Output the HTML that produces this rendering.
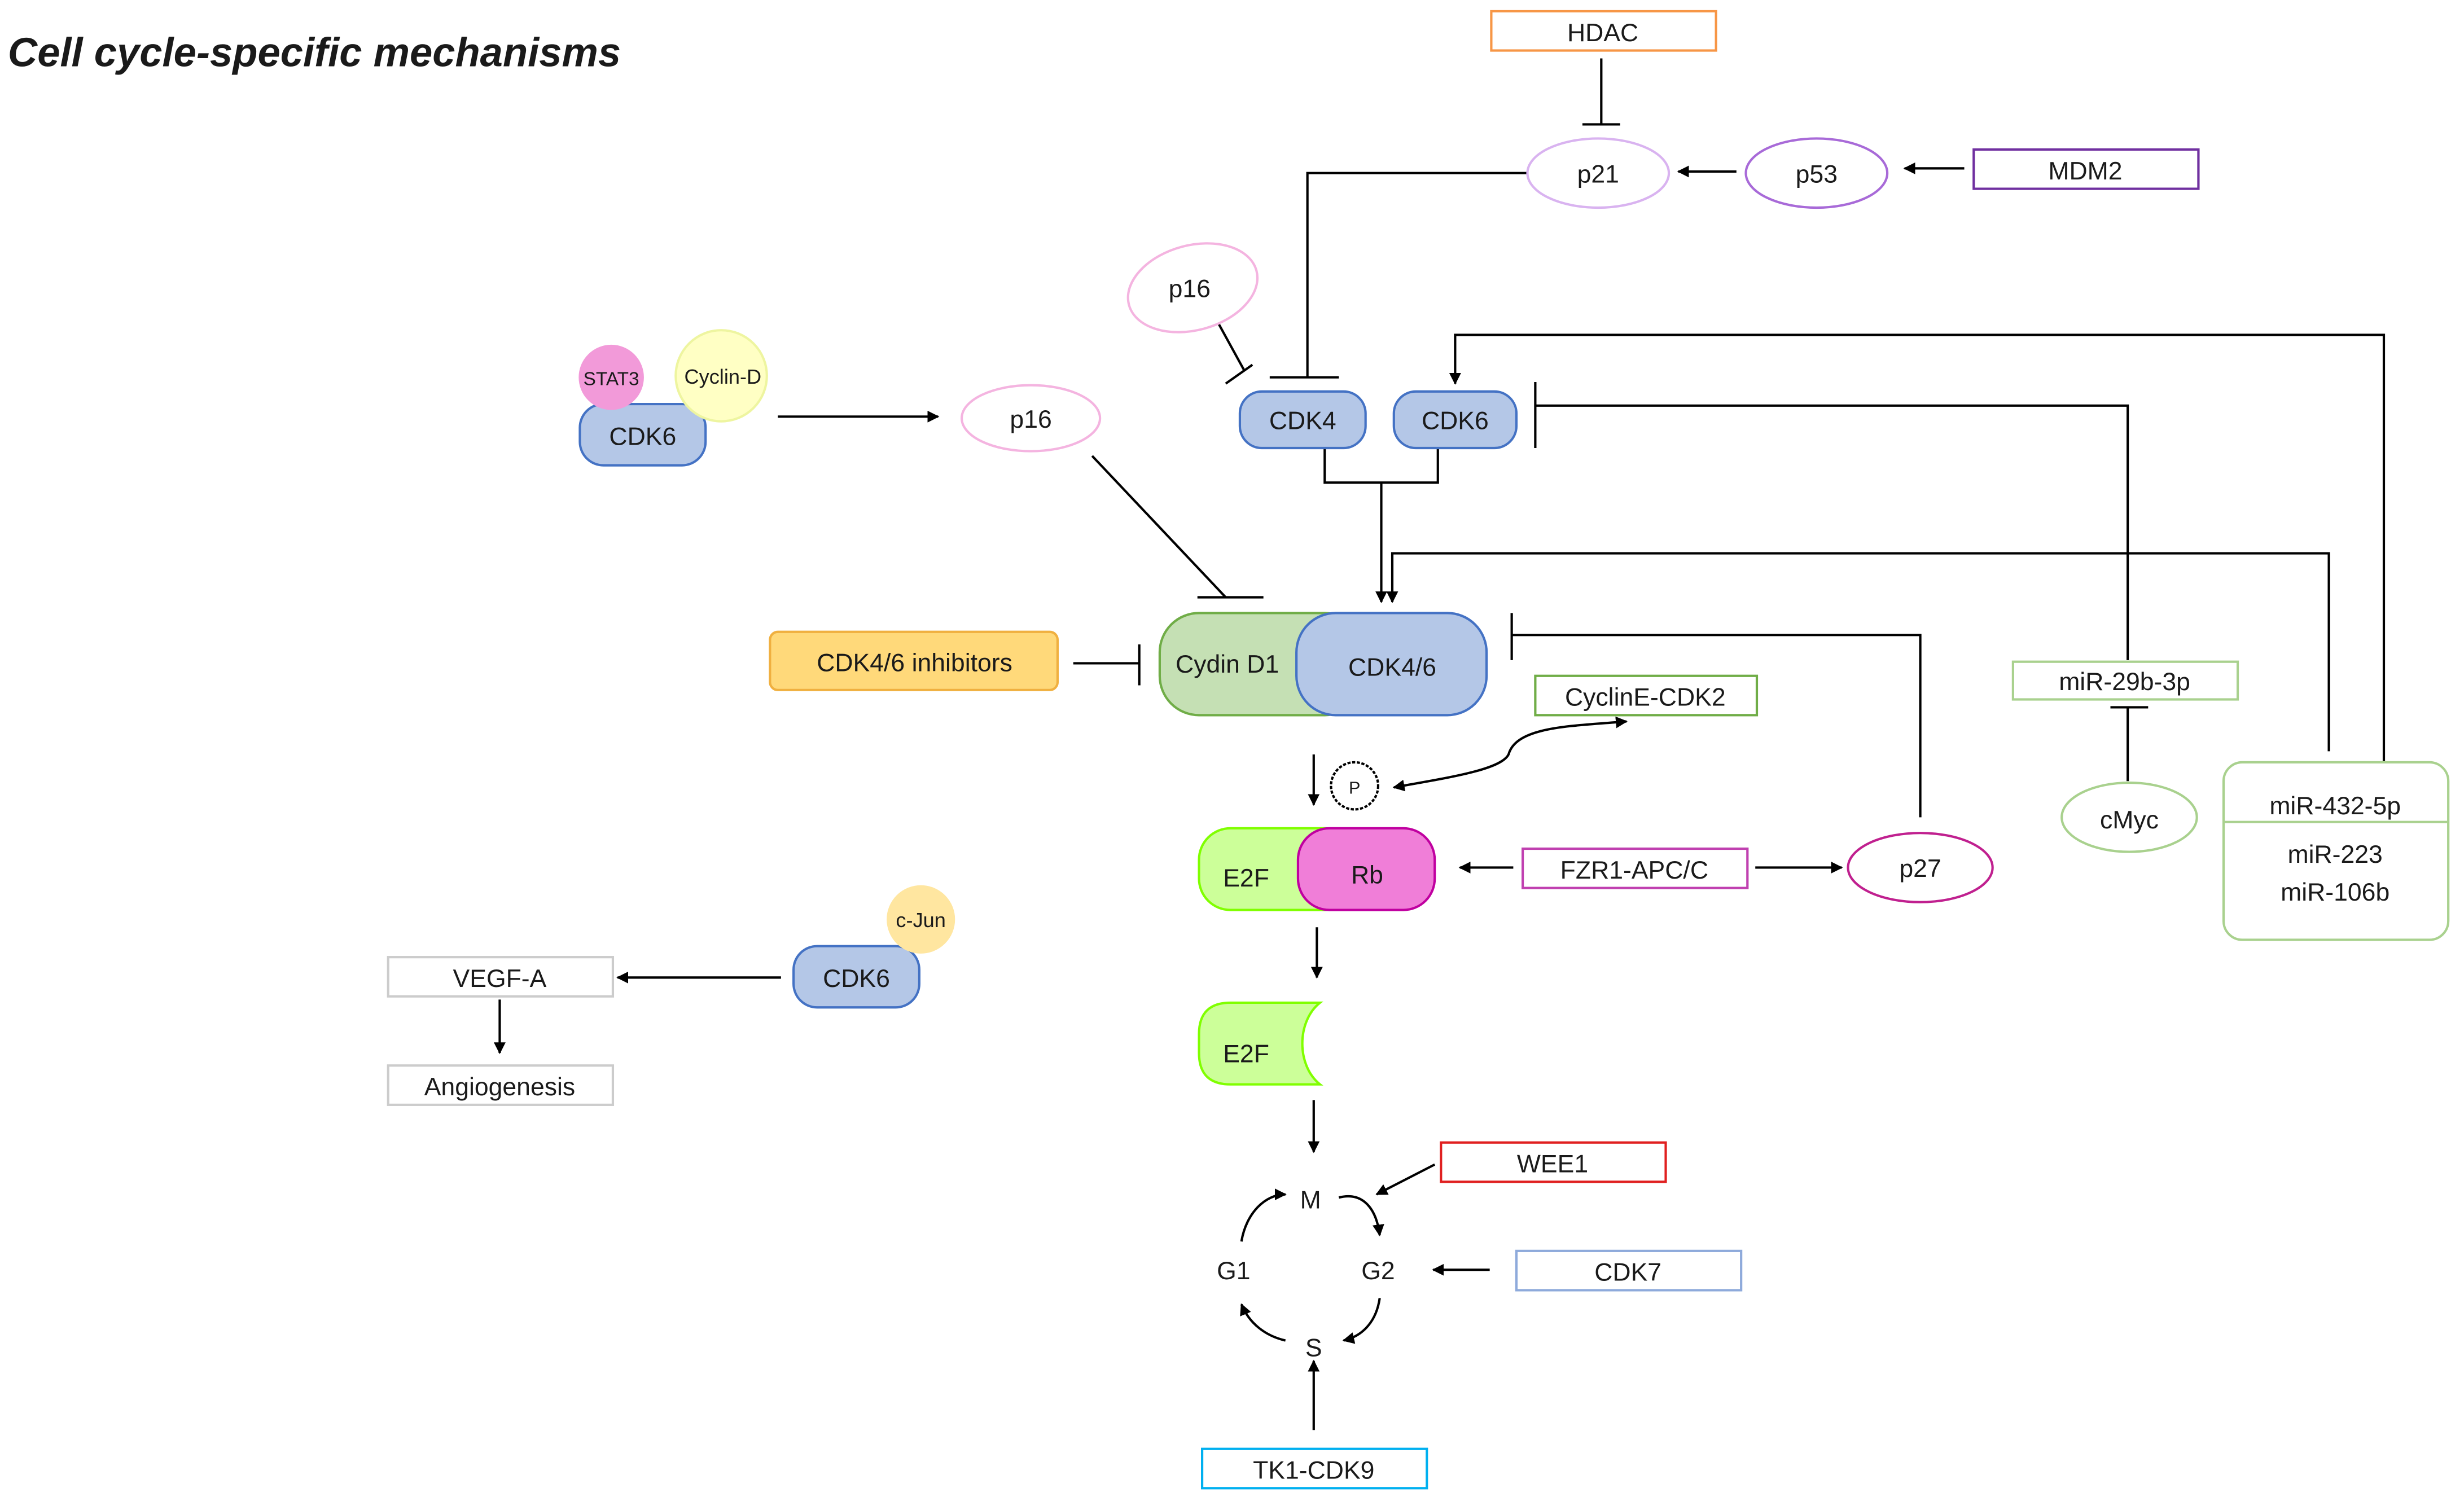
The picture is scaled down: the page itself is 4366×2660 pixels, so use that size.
<!DOCTYPE html>
<html><head><meta charset="utf-8"><style>
html,body{margin:0;padding:0;background:#fff}
svg{display:block}
text{font-family:"Liberation Sans",sans-serif;fill:#1a1a1a}
</style></head><body>
<svg width="4366" height="2660" viewBox="0 0 1568 955" xmlns="http://www.w3.org/2000/svg">
<defs>
<marker id="a" viewBox="0 0 10 10" refX="9" refY="5" markerWidth="5" markerHeight="5" orient="auto-start-reverse"><path d="M0,0L10,5L0,10z" fill="#000"/></marker>
</defs>
<rect width="1568" height="955" fill="#fff"/>
<text x="5" y="42" font-size="26" font-weight="bold" font-style="italic">Cell cycle-specific mechanisms</text>

<g fill="none" stroke="#000" stroke-width="1.5">
<!-- HDAC inhibition -->
<path d="M1019,37V79M1007,79H1031"/>
<path d="M1250,107H1212" marker-end="url(#a)"/>
<path d="M1105,109H1068" marker-end="url(#a)"/>
<path d="M972,110H832V240M808,240H852"/>
<path d="M775,205L792,236M780,244L797,232"/>
<path d="M1517,485V213H926V244" marker-end="url(#a)"/>
<path d="M1354,420V258H977M977,243V285"/>
<path d="M843,285V307H915V285M879,307V383" marker-end="url(#a)"/>
<path d="M1482,478V352H886V383" marker-end="url(#a)"/>
<path d="M495,265H597" marker-end="url(#a)"/>
<path d="M695,290L780,380M762,380H804"/>
<path d="M683,422H725M725,410V436"/>
<path d="M1222,520V404H962M962,390V420"/>
<path d="M1354,497V450M1343,450H1367"/>
<path d="M836,480V512" marker-end="url(#a)"/>
<path d="M887,501C920,495 955,490 960,480C965,462 1000,462 1035,459" marker-start="url(#a)" marker-end="url(#a)"/>
<path d="M963,552H929" marker-end="url(#a)"/>
<path d="M1117,552H1172" marker-end="url(#a)"/>
<path d="M838,590V622" marker-end="url(#a)"/>
<path d="M836,700V733" marker-end="url(#a)"/>
<path d="M913,741L876,760" marker-end="url(#a)"/>
<path d="M948,808H912" marker-end="url(#a)"/>
<path d="M836,910V866" marker-end="url(#a)"/>
<path d="M852,762C868,758 876,770 878,786" marker-end="url(#a)"/>
<path d="M878,826C876,840 868,850 855,853" marker-end="url(#a)"/>
<path d="M818,853C805,850 795,842 790,830" marker-end="url(#a)"/>
<path d="M790,790C793,772 805,760 818,760" marker-end="url(#a)"/>
<path d="M497,622H393" marker-end="url(#a)"/>
<path d="M318,636V670" marker-end="url(#a)"/>
</g>

<!-- boxes -->
<g fill="#fff" stroke-width="1.5">
<rect x="949" y="7" width="143" height="25" stroke="#F79646"/>
<rect x="1256" y="95" width="143" height="25" stroke="#7030A0"/>
<rect x="977" y="430" width="141" height="25" stroke="#70AD47"/>
<rect x="1281" y="421" width="143" height="24" stroke="#a9d18e"/>
<rect x="1415" y="485" width="143" height="113" rx="12" stroke="#a9d18e"/>
<rect x="969" y="540" width="143" height="25" stroke="#c040b0"/>
<rect x="917" y="727" width="143" height="25" stroke="#e02020"/>
<rect x="965" y="796" width="143" height="25" stroke="#8eaadb"/>
<rect x="765" y="922" width="143" height="25" stroke="#00b0f0"/>
<rect x="247" y="609" width="143" height="25" stroke="#ccc"/>
<rect x="247" y="678" width="143" height="25" stroke="#ccc"/>
<rect x="490" y="402" width="183" height="37" rx="5" fill="#ffd97a" stroke="#f0b040"/>
<ellipse cx="1017" cy="110" rx="45" ry="22" stroke="#d9b3f0"/>
<ellipse cx="1156" cy="110" rx="45" ry="22" stroke="#a86ad8"/>
<ellipse cx="759" cy="183" rx="42" ry="27" stroke="#f4b4e0" transform="rotate(-15 759 183)"/>
<ellipse cx="656" cy="266" rx="44" ry="21" stroke="#f4b4e0"/>
<ellipse cx="1355" cy="520" rx="43" ry="22" stroke="#a9d18e"/>
<ellipse cx="1222" cy="552" rx="46" ry="22" stroke="#c0208f"/>
<circle cx="862" cy="500" r="15" stroke="#000" stroke-dasharray="2,1"/>
</g>
<line x1="1415" y1="523" x2="1558" y2="523" stroke="#a9d18e" stroke-width="1.5"/>

<!-- proteins -->
<g stroke-width="1.5">
<rect x="789" y="249" width="80" height="36" rx="14" fill="#b4c7e7" stroke="#4472c4"/>
<rect x="887" y="249" width="78" height="36" rx="14" fill="#b4c7e7" stroke="#4472c4"/>
<rect x="369" y="257" width="80" height="39" rx="15" fill="#b4c7e7" stroke="#4472c4"/>
<circle cx="389" cy="240" r="20" fill="#f29ad9" stroke="#f29ad9"/>
<circle cx="459" cy="239" r="29" fill="#ffffc4" stroke="#eef5a0"/>
<rect x="505" y="602" width="80" height="39" rx="15" fill="#b4c7e7" stroke="#4472c4"/>
<circle cx="586" cy="585" r="21" fill="#ffe6a0" stroke="#ffe6a0"/>
<rect x="738" y="390" width="130" height="65" rx="25" fill="#c5e0b4" stroke="#70AD47"/>
<rect x="825" y="390" width="121" height="65" rx="25" fill="#b4c7e7" stroke="#4472c4"/>
<rect x="763" y="527" width="100" height="52" rx="20" fill="#ccff99" stroke="#80ff00"/>
<rect x="826" y="527" width="87" height="52" rx="20" fill="#f07ed8" stroke="#c000a0"/>
<path d="M783,638H840C825,650 825,678 840,690H783Q763,690 763,670V658Q763,638 783,638Z" fill="#ccff99" stroke="#80ff00"/>
</g>

<g font-size="16" text-anchor="middle">
<text x="1020" y="26">HDAC</text>
<text x="1017" y="116">p21</text>
<text x="1156" y="116">p53</text>
<text x="1327" y="114">MDM2</text>
<text x="757" y="189">p16</text>
<text x="829" y="273">CDK4</text>
<text x="926" y="273">CDK6</text>
<text x="389" y="245" font-size="12">STAT3</text>
<text x="460" y="244" font-size="13">Cyclin-D</text>
<text x="409" y="283">CDK6</text>
<text x="656" y="272">p16</text>
<text x="582" y="427">CDK4/6 inhibitors</text>
<text x="781" y="428">Cydin D1</text>
<text x="886" y="430">CDK4/6</text>
<text x="1047" y="449">CyclinE-CDK2</text>
<text x="1352" y="439">miR-29b-3p</text>
<text x="1355" y="527">cMyc</text>
<text x="1486" y="518">miR-432-5p</text>
<text x="1486" y="549">miR-223</text>
<text x="1486" y="573">miR-106b</text>
<text x="862" y="505" font-size="11">P</text>
<text x="793" y="564">E2F</text>
<text x="870" y="562">Rb</text>
<text x="1040" y="559">FZR1-APC/C</text>
<text x="1222" y="558">p27</text>
<text x="793" y="676">E2F</text>
<text x="988" y="746">WEE1</text>
<text x="1036" y="815">CDK7</text>
<text x="836" y="941">TK1-CDK9</text>
<text x="834" y="769">M</text>
<text x="785" y="814">G1</text>
<text x="877" y="814">G2</text>
<text x="836" y="863">S</text>
<text x="586" y="590" font-size="13">c-Jun</text>
<text x="545" y="628">CDK6</text>
<text x="318" y="628">VEGF-A</text>
<text x="318" y="697">Angiogenesis</text>
</g>
</svg>
</body></html>
